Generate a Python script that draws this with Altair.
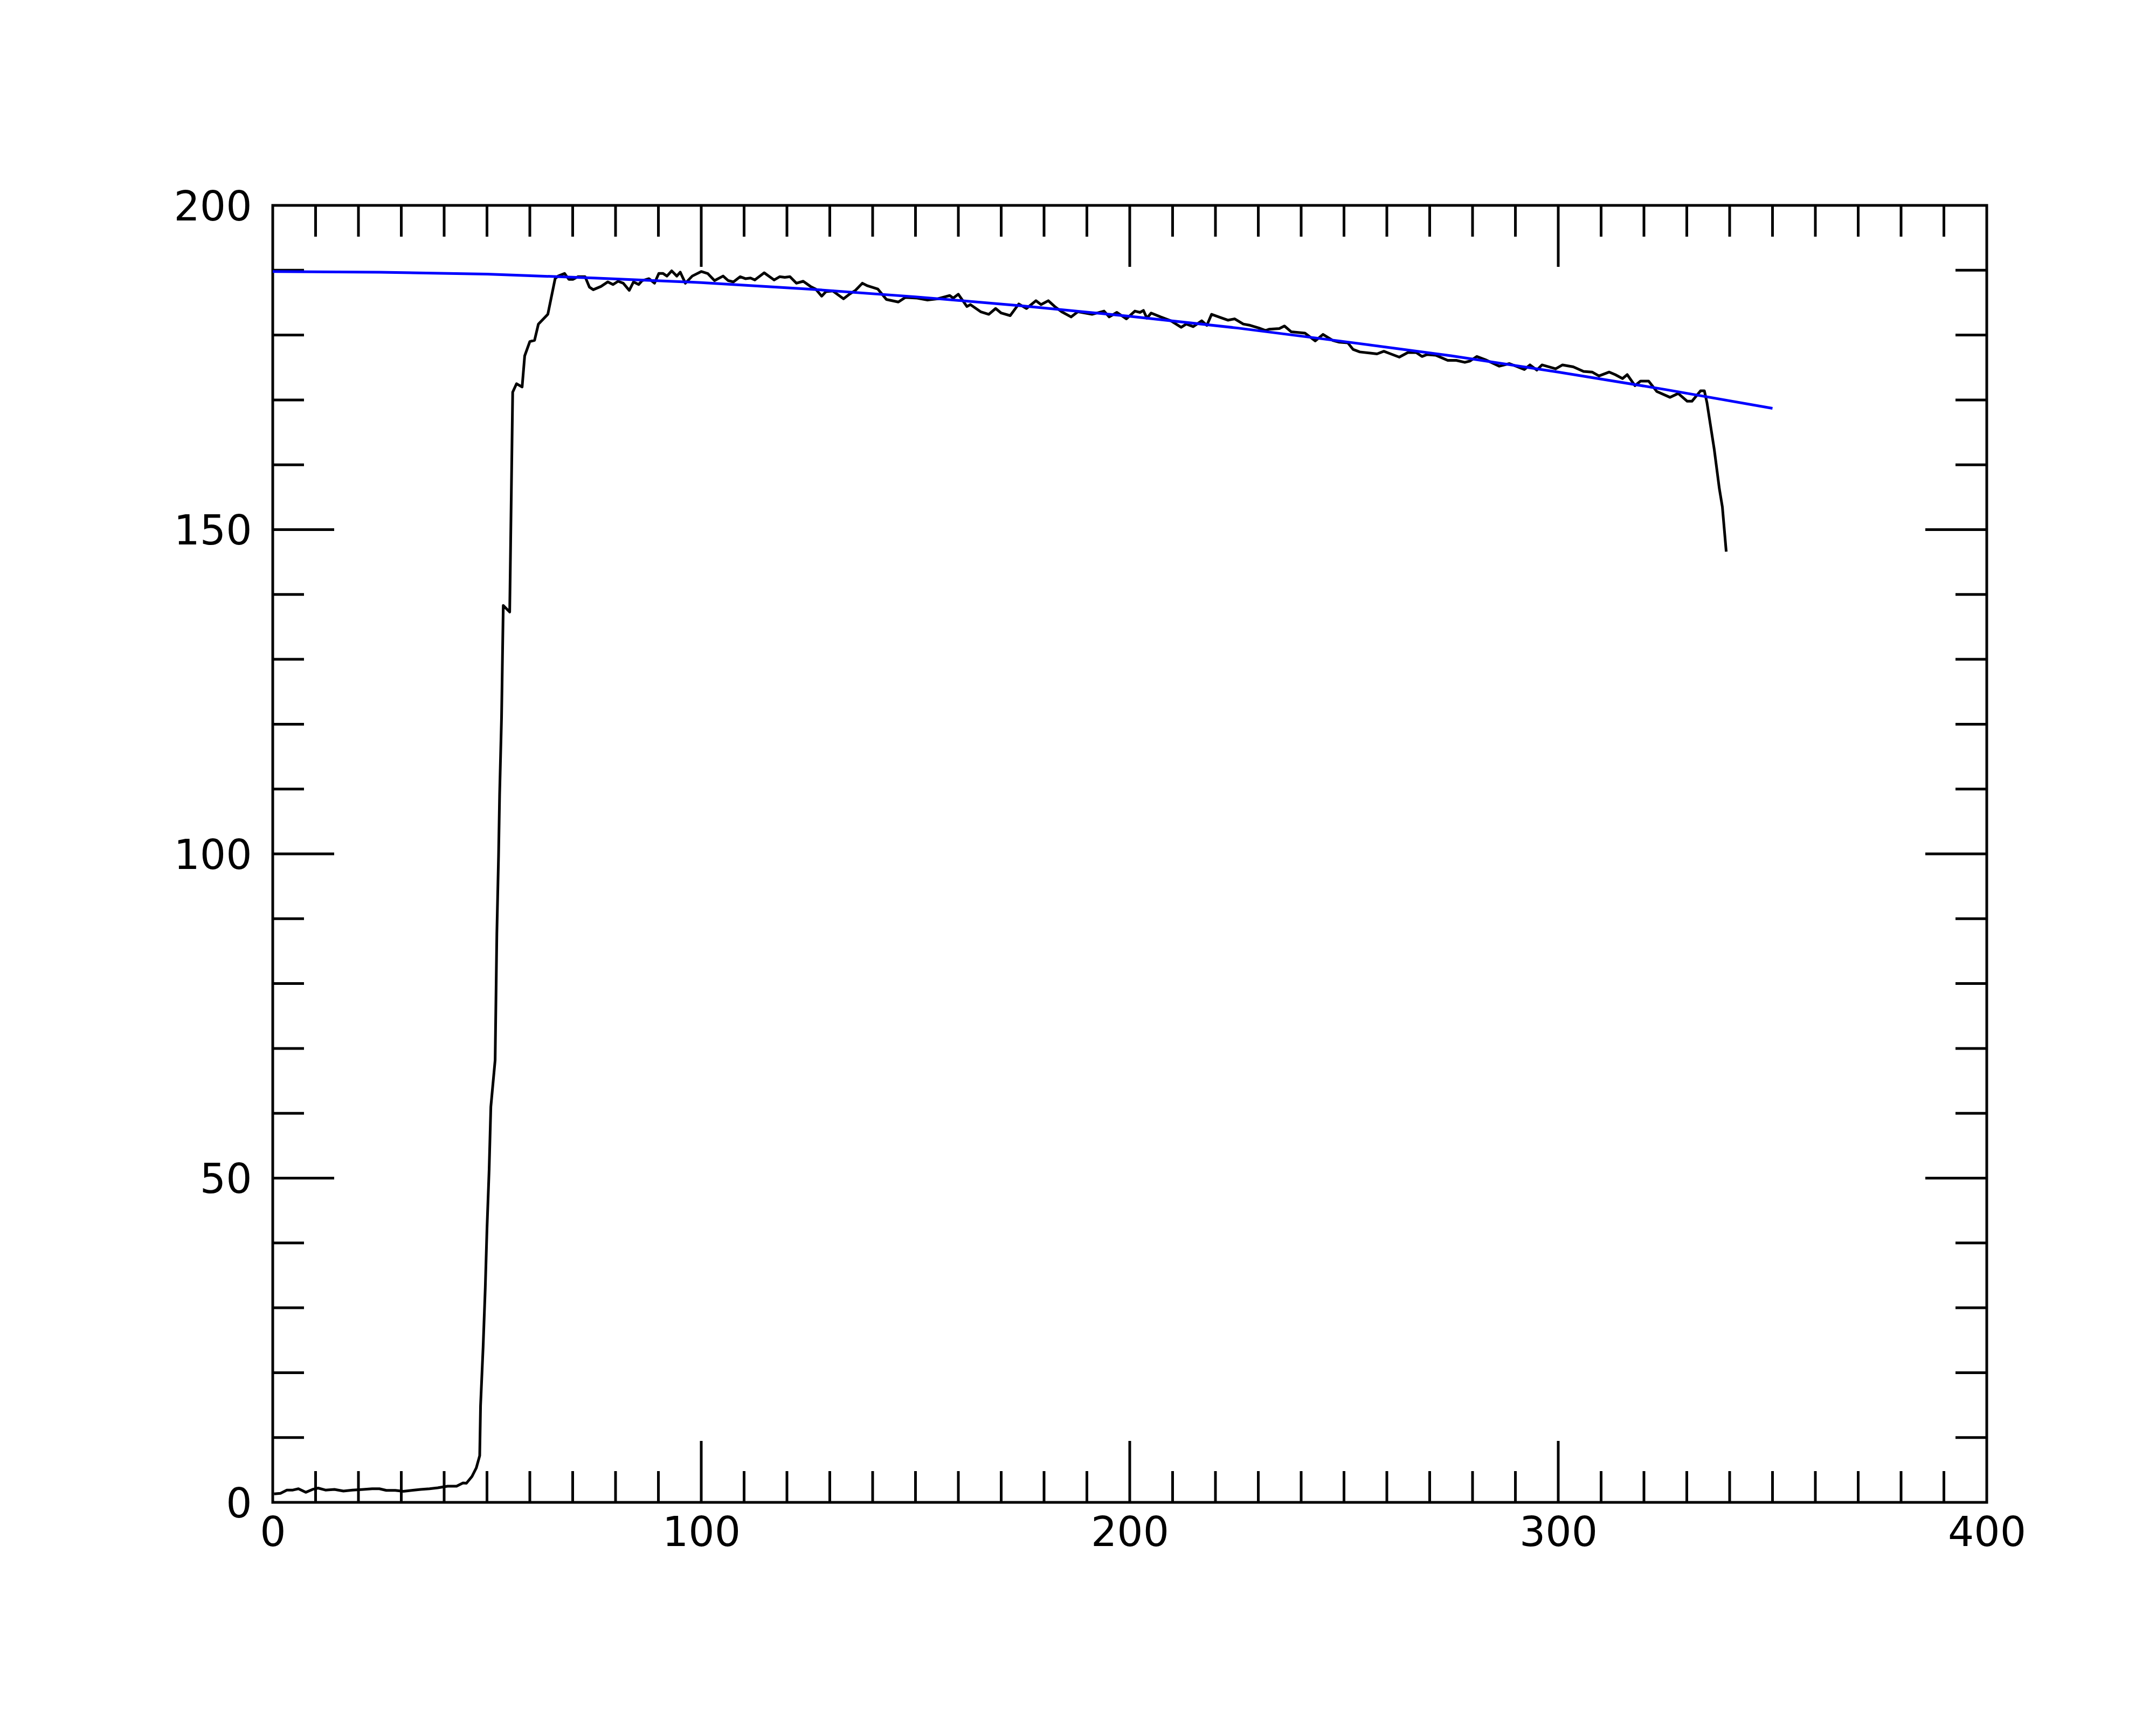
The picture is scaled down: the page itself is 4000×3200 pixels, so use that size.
import altair as alt
import pandas as pd

# ---- measured signal (black) ----
sig_x = [0.3, 1.8, 3.3, 4.7, 6.0, 7.7, 9.3, 10.6, 12.3, 14.4, 16.5, 18.6, 21.1, 23.2, 24.9,
         26.5, 28.6, 30.5, 32.4, 34.5, 36.6, 38.5, 40.8, 42.9, 44.4, 45.2, 46.5, 47.5, 48.3,
         48.5, 49.1, 49.6, 50.0, 50.5, 50.9, 51.9, 52.3, 52.7, 52.95, 53.4, 53.8, 55.3,
         56.0, 56.9, 58.2, 58.8, 60.0, 61.1, 62.0, 64.2, 65.9, 66.6, 68.1, 69.1, 70.1, 71.2,
         72.9, 73.9, 74.8, 76.6, 78.2, 79.4, 80.6, 81.8, 83.2, 84.2, 85.4, 86.2, 87.8, 89.1,
         90.1, 91.1, 92.0, 93.1, 94.3, 95.1, 96.3, 97.9, 100.0, 101.5, 103.1, 105.1, 106.3,
         107.5, 109.1, 110.3, 111.5, 112.5, 114.7, 117.0, 118.3, 119.5, 120.7, 122.2, 123.8,
         125.5, 126.7, 128.1, 129.1, 130.7, 133.2, 134.8, 136.0, 137.6, 138.8, 141.2, 143.2,
         146.0, 147.6, 150.4, 152.8, 155.2, 158.0, 158.8, 160.0, 162.0, 162.8, 165.2, 167.1,
         168.7, 170.0, 172.1, 174.1, 175.9, 178.1, 179.3, 181.0, 182.5, 184.1, 186.3, 187.9,
         191.2, 194.0, 195.2, 197.0, 199.2, 201.2, 202.4, 203.2, 204.0, 205.0, 207.2, 209.6,
         212.0, 213.2, 214.8, 216.8, 218.0, 219.1, 221.2, 222.9, 224.5, 226.5, 228.1, 230.1,
         231.7, 232.5, 234.9, 236.1, 237.7, 240.9, 243.3, 245.1, 247.3, 248.9, 250.9, 252.1,
         253.7, 257.7, 259.3, 260.9, 262.9, 264.9, 266.9, 268.2, 269.4, 271.4, 274.2, 276.2,
         278.2, 279.4, 281.0, 283.0, 286.2, 288.6, 292.1, 293.4, 295.0, 296.2, 299.4, 301.0,
         303.5, 305.9, 307.9, 309.5, 311.9, 313.3, 315.0, 316.1, 317.9, 319.2, 321.1, 323.0,
         326.1, 328.0, 330.1, 331.2, 333.2, 334.1, 334.7, 336.4, 337.6, 338.3, 339.2]
sig_y = [1.3, 1.4, 1.9, 1.9, 2.1, 1.55, 2.0, 2.2, 1.9, 2.0, 1.75, 1.9, 2.0, 2.1, 2.1,
         1.85, 1.85, 1.7, 1.85, 2.0, 2.1, 2.25, 2.5, 2.5, 3.0, 2.95, 4.0, 5.3, 7.2,
         14.9, 24.0, 33.1, 42.2, 51.3, 61.0, 68.2, 87.7, 99.7, 109.2, 121.1, 138.3, 137.3,
         171.2, 172.5, 172.0, 176.8, 179.0, 179.2, 181.7, 183.2, 188.7, 189.1, 189.5, 188.6, 188.6, 189.0,
         189.0, 187.4, 187.0, 187.5, 188.2, 187.8, 188.3, 188.0, 186.9, 188.2, 187.8, 188.4, 188.7, 188.0,
         189.5, 189.5, 189.1, 189.9, 189.1, 189.7, 188.0, 189.1, 189.8, 189.5, 188.4, 189.1, 188.4,
         188.2, 189.0, 188.7, 188.8, 188.5, 189.6, 188.5, 189.0, 188.9, 189.0, 188.0, 188.3,
         187.5, 187.1, 186.0, 186.7, 186.8, 185.6, 186.4, 186.9, 188.0, 187.6, 187.1, 185.5,
         185.1, 185.8, 185.7, 185.4, 185.6, 186.1, 185.7, 186.3, 184.4, 184.7, 183.6, 183.2,
         184.1, 183.4, 183.0, 184.8, 184.1, 185.3, 184.7, 185.3, 184.4, 183.6, 182.8, 183.6,
         183.2, 183.7, 182.8, 183.5, 182.5, 183.7, 183.5, 183.8, 182.6, 183.4, 182.8, 182.2,
         181.2, 181.7, 181.3, 182.2, 181.5, 183.2, 182.7, 182.3, 182.5, 181.7, 181.5, 181.1,
         180.7, 180.9, 181.0, 181.4, 180.5, 180.3, 179.1, 180.1, 179.2, 178.9, 178.8, 177.8,
         177.4, 177.1, 177.5, 177.1, 176.6, 177.3, 177.3, 176.7, 177.0, 176.9, 176.1, 176.1,
         175.8, 176.0, 176.7, 176.2, 175.2, 175.6, 174.7, 175.4, 174.6, 175.4, 174.8, 175.4,
         175.1, 174.4, 174.3, 173.7, 174.3, 173.9, 173.3, 173.9, 172.2, 172.9, 172.9, 171.3,
         170.4, 171.0, 169.8, 169.8, 171.4, 171.4, 169.6, 162.4, 156.3, 153.5, 146.6]

# ---- fitted curve (blue) ----
fit_x = [0, 25, 50, 75, 100, 125, 150, 175, 200, 225, 250, 275, 300, 325, 350]
fit_y = [189.8, 189.7, 189.4, 188.8, 188.1, 187.1, 185.9, 184.5, 182.9, 181.1, 179.0,
         176.8, 174.3, 171.6, 168.7]

x_major = [100, 200, 300]
x_minor = [10, 20, 30, 40, 50, 60, 70, 80, 90, 110, 120, 130, 140, 150, 160, 170, 180, 190,
           210, 220, 230, 240, 250, 260, 270, 280, 290, 310, 320, 330, 340, 350, 360, 370,
           380, 390]
y_major = [50, 100, 150]
y_minor = [10, 20, 30, 40, 60, 70, 80, 90, 110, 120, 130, 140, 160, 170, 180, 190]
x_labels = [0, 100, 200, 300, 400]
y_labels = [0, 50, 100, 150, 200]

W, H = 3180, 2406
MINOR, MAJOR = 58, 114
FONT = "DejaVu Sans"
FS = 76
TW = 5

xs = alt.Scale(domain=[0, 400], nice=False, zero=False)
ys = alt.Scale(domain=[0, 200], nice=False, zero=False)
xaxis = alt.Axis(values=x_labels, ticks=False, tickSize=0, domain=False, grid=False,
                 labelFont=FONT, labelFontSize=FS, labelColor="black", labelPadding=20,
                 labelFlush=False, labelOverlap=False, title=None, format="d")
yaxis = alt.Axis(values=y_labels, ticks=False, tickSize=0, domain=False, grid=False,
                 labelFont=FONT, labelFontSize=FS, labelColor="black", labelPadding=39,
                 labelFlush=False, labelOverlap=False, title=None, format="d", labelOffset=4)

sig = pd.DataFrame({"x": sig_x, "y": sig_y})
fit = pd.DataFrame({"x": fit_x, "y": fit_y})

sig_line = alt.Chart(sig).mark_line(color="black", strokeWidth=5, strokeJoin="round").encode(
    x=alt.X("x:Q", scale=xs, axis=xaxis),
    y=alt.Y("y:Q", scale=ys, axis=yaxis),
)
fit_line = alt.Chart(fit).mark_line(color="#0000ff", strokeWidth=5).encode(
    x=alt.X("x:Q", scale=xs, axis=xaxis),
    y=alt.Y("y:Q", scale=ys, axis=yaxis),
)


def xticks(vals, length):
    d = pd.DataFrame({"v": vals})
    base = alt.Chart(d).mark_rule(color="black", strokeWidth=TW)
    bottom = base.encode(x=alt.X("v:Q", scale=xs, axis=xaxis), y=alt.value(H), y2=alt.value(H - length))
    top = base.encode(x=alt.X("v:Q", scale=xs, axis=xaxis), y=alt.value(0), y2=alt.value(length))
    return [bottom, top]


def yticks(vals, length):
    d = pd.DataFrame({"v": vals})
    base = alt.Chart(d).mark_rule(color="black", strokeWidth=TW)
    left = base.encode(y=alt.Y("v:Q", scale=ys, axis=yaxis), x=alt.value(0), x2=alt.value(length))
    right = base.encode(y=alt.Y("v:Q", scale=ys, axis=yaxis), x=alt.value(W), x2=alt.value(W - length))
    return [left, right]


layers = (xticks(x_minor, MINOR) + xticks(x_major, MAJOR) +
          yticks(y_minor, MINOR) + yticks(y_major, MAJOR) + [sig_line, fit_line])

chart = alt.layer(*layers).properties(
    width=W, height=H,
    padding={"left": 498, "top": 373, "right": 306, "bottom": 405},
    autosize=alt.AutoSizeParams(type="none"),
    background="white",
).configure_view(stroke="black", strokeWidth=5, fill="white")

chart.save("out.html", embed_options={"renderer": "svg", "actions": False})
